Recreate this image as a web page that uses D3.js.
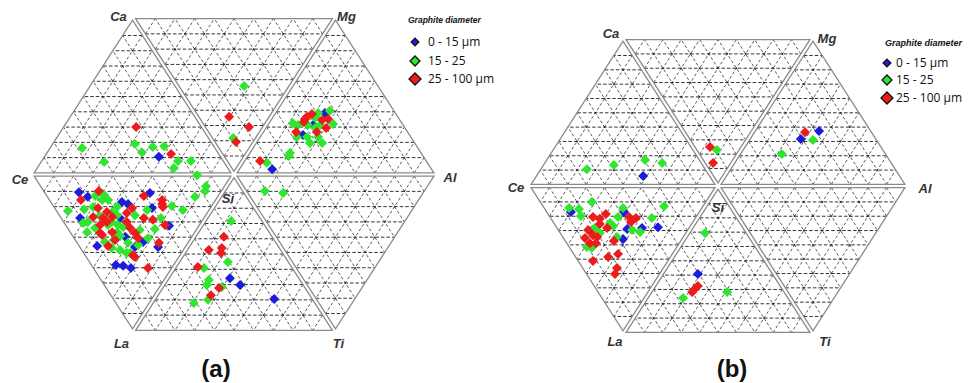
<!DOCTYPE html>
<html><head><meta charset="utf-8">
<script src="https://cdn.jsdelivr.net/npm/d3@7"></script>
<style>body{margin:0;background:#fff}</style></head>
<body>
<svg id="c" width="969" height="383"></svg>
<script>
// ---------- DATA (hexagon units: x 0 = Ce .. 100 = Al, y 0 = La/Ti edge .. 100 = Ca/Mg edge) ----------
const classNames = ["0 - 15 µm", "15 - 25", "25 - 100 µm"];
const classColors = ["#1c1cdc", "#2ee62e", "#ec1c1c"];
const vertexNames = ["Ce", "Ca", "Mg", "Al", "Ti", "La", "Si"];
const vertexX = [0, 25, 75, 100, 75, 25, 50];
const vertexY = [50, 100, 100, 50, 0, 0, 50];
const gridDivisions = 10;
const legendTitle = "Graphite diameter";
const panelNames = ["(a)", "(b)"];

const aSmall = [[31.5,55.6],[72.4,69.5],[67.0,62.5],[69.5,65.7],[59.4,51.7],[49.0,17.1],[51.5,14.9],[59.9,10.5],[29.3,44.1],
 [11.8,44.4],[14.0,42.9],[22.4,41.3],[23.9,40.6],[29.8,39.4],[12.1,36.2],[21.9,36.2],[34.0,33.7],[27.6,28.6],[23.2,30.2],
 [16.3,27.3],[25.6,27.0],[20.9,21.3],[22.7,21.0],[24.6,20.3],[31.3,27.0]];
const aMedium = [[12.6,58.4],[18.0,54.0],[25.6,59.7],[27.3,57.1],[30.0,58.7],[32.8,59.0],[36.2,54.3],[35.2,52.1],[39.4,54.3],[40.9,49.8],
 [52.5,78.1],[49.8,61.6],
 [73.6,70.2],[74.4,66.0],[71.7,60.0],[70.7,61.9],[70.0,67.9],[70.7,69.5],[64.5,66.3],[65.8,65.7],[65.5,61.9],[68.0,61.9],[68.7,60.0],
 [70.0,64.8],[71.2,65.7],[68.2,65.7],[63.8,56.8],[63.5,55.9],[58.1,53.7],
 [57.6,44.8],[62.1,44.1],
 [49.3,35.2],[48.5,22.2],[42.6,20.3],[43.8,16.5],[43.3,14.9],[47.0,14.3],[43.6,10.2],[40.1,9.2],
 [43.1,46.3],[42.9,44.8],[40.4,42.9],[37.4,38.7],[34.7,40.0],[9.1,38.4],
 [15.8,43.2],[18.0,43.5],[19.0,41.9],[13.1,39.0],[21.2,39.7],[28.6,38.7],[14.0,34.9],[21.2,37.1],[25.6,37.1],[32.0,36.2],
 [30.5,32.7],[13.8,31.7],[15.8,33.0],[19.0,34.0],[21.2,31.7],[22.7,33.3],[26.8,32.4],[28.8,29.8],[18.2,28.6],[20.4,29.2],
 [21.9,26.0],[23.9,28.3],[24.4,25.1],[26.4,27.6],[19.9,26.7],[23.6,25.1],[12.8,34.6],[17.5,41.9],[15.3,39.7],[22.0,30.5],
 [17.0,36.8],[20.0,38.0],[19.9,34.9],[21.4,34.0]];
const aLarge = [[25.9,65.1],[34.5,56.5],
 [48.8,68.3],[53.7,65.1],[50.5,60.3],
 [73.2,67.6],[72.7,64.8],[70.4,63.5],[69.2,69.2],[67.5,67.6],[68.0,68.3],[65.3,63.5],[71.7,67.3],[67.2,66.7],[56.4,54.3],
 [47.5,30.2],[43.8,26.0],[47.0,26.7],[46.8,25.1],[41.1,20.6],[46.3,14.0],[44.3,11.7],
 [32.3,41.9],[32.3,40.6],[27.8,43.2],
 [16.7,44.8],[12.3,41.9],[16.5,39.4],[18.7,38.1],[24.9,39.4],[32.5,39.7],[15.3,36.5],[17.7,36.2],[20.0,36.5],[23.6,34.9],
 [27.8,36.2],[30.0,35.6],[33.0,34.0],[17.0,34.0],[17.5,30.8],[20.0,31.7],[24.4,33.0],[25.6,31.4],[26.4,29.8],[19.0,27.3],
 [25.1,24.4],[31.5,28.3],[28.8,20.3],[18.7,34.9],[17.0,31.4],[20.7,29.2],[25.6,23.8],[23.6,37.8]];

const bSmall = [[30.3,53.4],[76.6,68.6],[71.8,65.9],[11.3,41.2],[16.6,34.8],[25.0,32.1],[25.3,41.2],[26.1,35.5],[30.0,35.8],[34.2,36.1],[44.7,20.3]];
const bMedium = [[15.5,55.7],[22.6,57.1],[30.8,58.8],[35.3,57.8],[49.7,62.2],[75.0,65.5],[66.8,60.8],
 [10.8,42.6],[13.4,42.2],[13.9,39.9],[16.8,44.6],[17.6,35.8],[18.9,34.1],[21.6,37.5],[22.4,36.5],[15.5,29.4],[16.8,29.1],
 [23.4,32.8],[23.7,39.5],[25.0,42.6],[27.4,35.1],[29.5,34.5],[32.6,39.2],[35.8,43.2],[46.6,34.1],[40.8,12.2],[52.4,14.2]];
const bLarge = [[47.9,63.2],[48.7,57.8],[72.9,68.2],
 [17.1,39.5],[18.9,38.9],[20.5,40.5],[15.8,35.1],[15.0,32.4],[18.2,32.8],[20.8,35.8],[17.9,30.7],[16.3,30.7],[22.6,31.4],
 [26.6,39.5],[28.4,39.2],[27.1,37.8],[17.1,24.7],[21.1,26.0],[23.7,27.0],[23.4,22.3],[22.9,20.3],[18.9,37.2],[17.1,33.4],
 [44.7,16.2],[43.9,15.2],[43.2,14.2]];

// ---------- LAYOUT ----------
const panels = [
  { name: panelNames[0], series: [aSmall, aMedium, aLarge],
    xr: [31, 437], yr: [332, 17],
    labelOff: [[-11,5],[-14,-1],[11,-1],[13,3],[3,11],[-11,11],[-6,24]],
    titleXY: [216, 377],
    legend: { x: 415, tx: 428, titleX: 408, titleY: 23, ys: [42, 61, 79], titleSize: 8.5, itemSize: 12 } },
  { name: panelNames[1], series: [bSmall, bMedium, bLarge],
    xr: [528, 908], yr: [334, 38],
    labelOff: [[-12,1],[-12,-5],[14,0],[17,2],[12,7],[-8,7],[0,21]],
    titleXY: [732, 377],
    legend: { x: 887, tx: 896, titleX: 885, titleY: 46, ys: [63, 80, 98], titleSize: 9, itemSize: 12 } }
];

const svg = d3.select("#c");
const triIdx = [[6,0,1],[6,1,2],[6,2,3],[6,3,4],[6,4,5],[6,5,0]];
const lerp = (p, q, t) => [p[0] + (q[0]-p[0])*t, p[1] + (q[1]-p[1])*t];

panels.forEach(P => {
  const x = d3.scaleLinear().domain([0,100]).range(P.xr);
  const y = d3.scaleLinear().domain([0,100]).range(P.yr);
  const g = svg.append("g");
  const Ry = Math.abs(P.yr[0]-P.yr[1]) / 2;
  const s = 1 - 1.6 / (Ry/3);
  const V = vertexX.map((vx,i) => [x(vx), y(vertexY[i])]);

  triIdx.forEach(ix => {
    let T = ix.map(i => V[i]);
    const cx = d3.mean(T, p => p[0]), cy = d3.mean(T, p => p[1]);
    T = T.map(p => [cx + (p[0]-cx)*s, cy + (p[1]-cy)*s]);
    const [A,B,C] = T;
    const lines = [];
    for (let k = 1; k < gridDivisions; k++) {
      const t = k / gridDivisions;
      lines.push([lerp(A,B,t), lerp(A,C,t)]);
      lines.push([lerp(B,A,t), lerp(B,C,t)]);
      lines.push([lerp(C,A,t), lerp(C,B,t)]);
    }
    const isHoriz = d => Math.abs(d[0][1] - d[1][1]) < 0.5;
    g.append("g").selectAll("line").data(lines).join("line")
      .attr("x1", d => d[0][0]).attr("y1", d => d[0][1])
      .attr("x2", d => d[1][0]).attr("y2", d => d[1][1])
      .attr("stroke", d => isHoriz(d) ? "#333" : "#4a4a4a")
      .attr("stroke-width", d => isHoriz(d) ? 1 : 0.9)
      .attr("stroke-dasharray", d => isHoriz(d) ? "3.5,2" : "3,2.2");
    const nodes = [];
    for (let i = 1; i < gridDivisions; i++) for (let j = 1; i + j < gridDivisions; j++) {
      const p = lerp(A,B,i/gridDivisions), q = lerp(A,C,j/gridDivisions);
      nodes.push([p[0] + q[0] - A[0], p[1] + q[1] - A[1]]);
    }
    g.append("g").selectAll("circle").data(nodes).join("circle")
      .attr("cx", d => d[0]).attr("cy", d => d[1]).attr("r", 0.8).attr("fill", "#222");
    g.append("polygon").attr("points", T.map(p => p.join(",")).join(" "))
      .attr("fill", "none").attr("stroke", "#8a8a8a").attr("stroke-width", 1.3);
  });

  g.append("g").selectAll("text").data(vertexNames).join("text")
    .attr("x", (d,i) => V[i][0] + P.labelOff[i][0])
    .attr("y", (d,i) => V[i][1] + P.labelOff[i][1] + 4.5)
    .attr("text-anchor", "middle")
    .attr("font-family", "Liberation Sans, Arial, sans-serif")
    .attr("font-weight", "bold").attr("font-style", "italic")
    .attr("font-size", 13).attr("fill", "#333").text(d => d);

  const sym = d3.symbol().type(d3.symbolSquare).size(50);
  P.series.forEach((ser, ci) => {
    g.append("g").selectAll("path").data(ser).join("path")
      .attr("d", sym)
      .attr("transform", d => `translate(${x(d[0])},${y(d[1])}) rotate(45)`)
      .attr("fill", classColors[ci]);
  });

  const L = P.legend;
  g.append("text").attr("x", L.titleX).attr("y", L.titleY)
    .attr("font-family", "Liberation Sans, Arial, sans-serif")
    .attr("font-weight", "bold").attr("font-style", "italic")
    .attr("font-size", L.titleSize).attr("fill", "#111").text(legendTitle);
  const lsizes = [30, 50, 72];
  classNames.forEach((cn, ci) => {
    g.append("path").attr("d", d3.symbol().type(d3.symbolSquare).size(lsizes[ci])())
      .attr("transform", `translate(${L.x},${L.ys[ci]}) rotate(45)`)
      .attr("fill", classColors[ci]).attr("stroke", "#111").attr("stroke-width", 1.3);
    g.append("text").attr("x", L.tx).attr("y", L.ys[ci] + 4)
      .attr("font-family", "Open Sans, Liberation Sans, sans-serif")
      .attr("font-size", L.itemSize).attr("fill", "#111").text(cn);
  });

  g.append("text").attr("x", P.titleXY[0]).attr("y", P.titleXY[1])
    .attr("text-anchor", "middle")
    .attr("font-family", "Liberation Sans, Arial, sans-serif")
    .attr("font-weight", "bold").attr("font-size", 24).attr("fill", "#111").text(P.name);
});
</script>
</body></html>
